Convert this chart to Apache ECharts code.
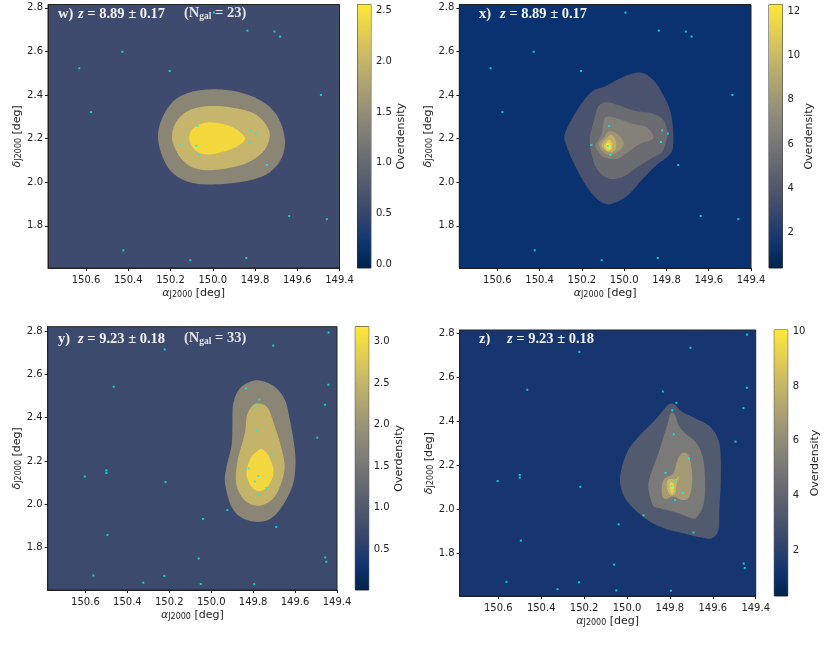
<!DOCTYPE html>
<html>
<head>
<meta charset="utf-8">
<title>Overdensity maps</title>
<style>
  html, body { margin: 0; padding: 0; background: #fff; }
  #main { width: 830px; height: 649px; }
</style>
<script src="https://cdn.jsdelivr.net/npm/echarts@6/dist/echarts.min.js"></script>
</head>
<body>
<div id="main"></div>
<script>
// tick labels
var raTicks = [149.4, 149.6, 149.8, 150.0, 150.2, 150.4, 150.6];
var decTicks = [1.8, 2.0, 2.2, 2.4, 2.6, 2.8];
var cbarTicksW = [0, 0.5, 1, 1.5, 2, 2.5];
var cbarTicksX = [2, 4, 6, 8, 10, 12];
var cbarTicksY = [0.5, 1, 1.5, 2, 2.5, 3];
var cbarTicksZ = [2, 4, 6, 8, 10];

// colorbar ranges
var cbarRangeW = [-0.04, 2.56];
var cbarRangeX = [0.4, 12.3];
var cbarRangeY = [0.01, 3.18];
var cbarRangeZ = [0.35, 10.04];

// galaxies, z = 8.89 slice
var galaxies889 = [
  [150.632, 2.523], [150.428, 2.598], [150.576, 2.322], [150.204, 2.510], [149.994, 2.778],
  [149.836, 2.695], [149.708, 2.691], [149.681, 2.668], [149.488, 2.400], [150.071, 2.258],
  [149.820, 2.238], [149.793, 2.223], [149.826, 2.185], [150.155, 2.171], [150.077, 2.166],
  [150.065, 2.125], [149.744, 2.079], [149.638, 1.845], [149.460, 1.831], [150.423, 1.688],
  [150.106, 1.643], [149.841, 1.653]
];
// galaxies, z = 9.23 slice
var galaxies923 = [
  [149.440, 2.793], [149.704, 2.733], [150.222, 2.715], [149.441, 2.552], [150.465, 2.543],
  [149.833, 2.535], [149.770, 2.484], [149.457, 2.460], [149.789, 2.450], [149.782, 2.341],
  [149.494, 2.308], [149.712, 2.232], [149.821, 2.166], [150.500, 2.157], [150.500, 2.145],
  [150.603, 2.129], [149.775, 2.131], [150.218, 2.103], [149.792, 2.106], [149.739, 2.076],
  [149.776, 2.043], [149.923, 1.974], [150.039, 1.933], [149.690, 1.896], [150.495, 1.859],
  [150.060, 1.750], [149.456, 1.755], [149.451, 1.735], [150.562, 1.672], [150.224, 1.670],
  [150.324, 1.639], [150.050, 1.633], [149.795, 1.632]
];

// contour outlines, outermost first
var contoursW = [
  [[150.259,2.201],[150.243,2.286],[150.188,2.370],[150.109,2.412],[150.006,2.426],[149.888,2.416],[149.777,2.377],[149.698,2.309],
   [149.659,2.201],[149.675,2.110],[149.738,2.041],[149.840,2.006],[149.998,1.990],[150.109,2.000],[150.188,2.041],[150.235,2.110]],
  [[150.193,2.201],[150.172,2.278],[150.109,2.331],[150.006,2.350],[149.888,2.339],[149.793,2.309],[149.738,2.247],[149.733,2.194],
   [149.769,2.133],[149.856,2.082],[149.998,2.056],[150.093,2.067],[150.156,2.117]],
  [[150.111,2.201],[150.093,2.247],[150.038,2.273],[149.967,2.270],[149.896,2.247],[149.847,2.201],[149.888,2.163],[149.967,2.136],
   [150.030,2.128],[150.085,2.148]]
];
var contoursX = [
  [[150.282,2.217],[150.250,2.286],[150.195,2.370],[150.147,2.420],[150.092,2.439],[150.029,2.472],[149.965,2.497],[149.910,2.500],
   [149.855,2.461],[149.807,2.385],[149.779,2.316],[149.768,2.224],[149.772,2.148],[149.799,2.114],[149.847,2.079],[149.910,2.018],
   [149.981,1.942],[150.044,1.906],[150.084,1.900],[150.131,1.926],[150.187,1.995],[150.242,2.095],[150.274,2.171]],
  [[150.163,2.202],[150.142,2.286],[150.123,2.347],[150.084,2.367],[150.029,2.354],[149.950,2.328],[149.870,2.316],[149.815,2.286],
   [149.795,2.224],[149.807,2.171],[149.823,2.136],[149.870,2.110],[149.934,2.072],[150.005,2.026],[150.076,2.018],[150.131,2.064],[150.155,2.133]],
  [[150.136,2.171],[150.108,2.217],[150.092,2.293],[150.052,2.298],[149.965,2.270],[149.894,2.252],[149.862,2.202],[149.926,2.176],
   [149.989,2.133],[150.036,2.107],[150.092,2.114],[150.123,2.140]],
  [[150.120,2.176],[150.092,2.209],[150.076,2.232],[150.044,2.229],[150.013,2.202],[150.002,2.171],[150.029,2.140],[150.068,2.125],[150.100,2.140]],
  [[150.108,2.171],[150.084,2.202],[150.060,2.217],[150.040,2.191],[150.040,2.156],[150.060,2.137],[150.092,2.148]],
  [[150.095,2.171],[150.076,2.194],[150.060,2.186],[150.057,2.156],[150.076,2.143],[150.092,2.156]],
  [[150.087,2.166],[150.076,2.182],[150.065,2.171],[150.066,2.151],[150.079,2.151]]
];
var contoursY = [
  [[149.934,2.097],[149.927,2.173],[149.903,2.273],[149.899,2.373],[149.895,2.465],[149.864,2.535],[149.808,2.568],[149.760,2.570],
   [149.696,2.542],[149.648,2.481],[149.625,2.389],[149.605,2.281],[149.598,2.189],[149.609,2.097],[149.648,2.012],[149.704,1.943],
   [149.768,1.920],[149.848,1.935],[149.903,1.989]],
  [[149.883,2.127],[149.872,2.212],[149.840,2.327],[149.829,2.412],[149.800,2.458],[149.768,2.465],[149.728,2.442],[149.696,2.358],
   [149.669,2.273],[149.650,2.181],[149.664,2.104],[149.704,2.028],[149.768,1.994],[149.832,2.012],[149.872,2.066]],
  [[149.832,2.143],[149.813,2.212],[149.784,2.243],[149.760,2.255],[149.728,2.227],[149.704,2.166],[149.709,2.120],[149.736,2.078],
   [149.771,2.061],[149.808,2.081]]
];
var contoursZ = [
  [[150.032,2.119],[150.025,2.187],[149.994,2.270],[149.939,2.338],[149.877,2.398],[149.830,2.451],[149.802,2.479],[149.776,2.474],
   [149.745,2.444],[149.683,2.414],[149.613,2.376],[149.574,2.315],[149.563,2.240],[149.563,2.119],[149.569,2.013],[149.574,1.908],
   [149.605,1.870],[149.659,1.874],[149.737,1.892],[149.815,1.911],[149.893,1.945],[149.962,1.998],[150.009,2.051]],
  [[149.900,2.096],[149.893,2.149],[149.854,2.255],[149.815,2.376],[149.796,2.436],[149.776,2.429],[149.760,2.383],[149.729,2.346],
   [149.675,2.300],[149.644,2.225],[149.636,2.104],[149.644,2.021],[149.672,1.968],[149.698,1.960],[149.768,1.986],[149.846,2.006],[149.880,2.021]],
  [[149.838,2.074],[149.830,2.134],[149.784,2.164],[149.768,2.217],[149.745,2.255],[149.714,2.247],[149.698,2.179],[149.698,2.104],
   [149.714,2.051],[149.745,2.044],[149.784,2.059],[149.823,2.047]],
  [[149.815,2.104],[149.807,2.137],[149.776,2.137],[149.757,2.152],[149.768,2.119],[149.776,2.074],[149.799,2.066]],
  [[149.802,2.104],[149.795,2.124],[149.781,2.111],[149.784,2.081],[149.795,2.077]],
  [[149.796,2.107],[149.790,2.114],[149.785,2.104],[149.790,2.092]]
];

// layout + styles of the four panels
var panels = [
  { name: 'w)', zLabel: 'z = 8.89 ± 0.17', nGal: 23, galaxies: galaxies889, contours: contoursW,
    ticks: cbarTicksW, range: cbarRangeW, digits: 1,
    left: 48, right: 339.5, top: 4.5, bottom: 268, barLeft: 357.5, barWidth: 13.4,
    raMax: 150.78, decMin: 1.607, decMax: 2.815, nameGapBar: 23,
    textY: 14, zX: 78, nX: 184, labelX: 58,
    bg: '#3e4b6e', fills: ['#8a8574', '#c6b56c', '#f5d93c'] },
  { name: 'x)', zLabel: 'z = 8.89 ± 0.17', galaxies: galaxies889, contours: contoursX,
    ticks: cbarTicksX, range: cbarRangeX, digits: 0,
    left: 459.3, right: 751, top: 4.5, bottom: 268, barLeft: 769, barWidth: 13.4,
    raMax: 150.78, decMin: 1.607, decMax: 2.815, nameGapBar: 21,
    textY: 14, zX: 500, labelX: 479,
    bg: '#0a3270', fills: ['#4a526e', '#6a6c72', '#848178', '#a09672', '#bfae6a', '#dfc856', '#fae339'] },
  { name: 'y)', zLabel: 'z = 9.23 ± 0.18', nGal: 33, galaxies: galaxies923, contours: contoursY,
    ticks: cbarTicksY, range: cbarRangeY, digits: 1,
    left: 47.7, right: 337, top: 326.7, bottom: 590, barLeft: 355.3, barWidth: 13.4,
    raMax: 150.78, decMin: 1.605, decMax: 2.82, nameGapBar: 23,
    textY: 339, zX: 78, nX: 184, labelX: 58,
    bg: '#3c4a6e', fills: ['#8a8574', '#c4b46a', '#f3d840'] },
  { name: 'z)', zLabel: 'z = 9.23 ± 0.18', galaxies: galaxies923, contours: contoursZ,
    ticks: cbarTicksZ, range: cbarRangeZ, digits: 0,
    left: 459.7, right: 755.7, top: 330, bottom: 596, barLeft: 774.3, barWidth: 13.4,
    raMax: 150.78, decMin: 1.608, decMax: 2.814, nameGapBar: 20,
    textY: 339, zX: 507, labelX: 479,
    bg: '#173670', fills: ['#515a6f', '#7a7a78', '#a49a74', '#c8b866', '#e5cf52', '#fee838'] }
];

// cividis
var cividis = [
  { offset: 0, color: '#00224e' }, { offset: 0.1, color: '#123570' }, { offset: 0.2, color: '#35456c' },
  { offset: 0.3, color: '#4f576c' }, { offset: 0.4, color: '#666970' }, { offset: 0.5, color: '#7d7c78' },
  { offset: 0.6, color: '#948f78' }, { offset: 0.7, color: '#aea371' }, { offset: 0.8, color: '#c8b866' },
  { offset: 0.9, color: '#e5cf52' }, { offset: 1, color: '#fee838' }
];

var fontSans = '"DejaVu Sans"';
var fontSerif = '"Liberation Serif"';
var inkColor = '#222';
var axisNameRich = {
  i: { fontFamily: fontSans, fontStyle: 'italic', fontSize: 11, color: inkColor },
  s: { fontFamily: fontSans, fontSize: 8, color: inkColor, verticalAlign: 'bottom', padding: [4, 0, 0, 0] },
  t: { fontFamily: fontSans, fontSize: 11, color: inkColor }
};

var grids = [], xAxes = [], yAxes = [], series = [], titles = [];

function axisStyle() {
  return {
    axisLine: { show: true, onZero: false, lineStyle: { color: inkColor, width: 1 } },
    splitLine: { show: false }
  };
}

function addText(left, centerY, rich, text) {
  titles.push({
    left: left, top: centerY - 9, padding: 0,
    text: text,
    textStyle: { rich: rich, color: '#f0f0f0', lineHeight: 18 }
  });
}

// closed catmull-rom through the outline, in pixel space
function closedCurve(pts) {
  var out = [], n = pts.length, steps = 10;
  for (var i = 0; i < n; i++) {
    var p0 = pts[(i - 1 + n) % n], p1 = pts[i], p2 = pts[(i + 1) % n], p3 = pts[(i + 2) % n];
    for (var s = 0; s < steps; s++) {
      var t = s / steps, t2 = t * t, t3 = t2 * t;
      out.push([
        0.5 * (2 * p1[0] + (p2[0] - p0[0]) * t + (2 * p0[0] - 5 * p1[0] + 4 * p2[0] - p3[0]) * t2 + (3 * p1[0] - p0[0] - 3 * p2[0] + p3[0]) * t3),
        0.5 * (2 * p1[1] + (p2[1] - p0[1]) * t + (2 * p0[1] - 5 * p1[1] + 4 * p2[1] - p3[1]) * t2 + (3 * p1[1] - p0[1] - 3 * p2[1] + p3[1]) * t3)
      ]);
    }
  }
  return out;
}

var titleRich = {
  b: { fontFamily: fontSerif, fontWeight: 'bold', fontSize: 14.5, color: '#f0f0f0' },
  n: { fontFamily: fontSerif, fontWeight: 'bold', fontSize: 14.5, color: '#e4e4e4' },
  i: { fontFamily: fontSerif, fontWeight: 'bold', fontStyle: 'italic', fontSize: 14.5, color: '#f0f0f0' },
  s: { fontFamily: fontSerif, fontWeight: 'bold', fontSize: 9.5, color: '#e4e4e4', verticalAlign: 'bottom', padding: [5, 0, 0, 0] }
};

panels.forEach(function (p, k) {
  var barIdx = k + 4;

  // map grid
  grids[k] = {
    left: p.left, top: p.top, width: p.right - p.left, height: p.bottom - p.top,
    show: true, backgroundColor: p.bg, borderColor: inkColor, borderWidth: 1
  };
  xAxes[k] = Object.assign(axisStyle(), {
    type: 'value', gridIndex: k, inverse: true, min: 149.4, max: p.raMax,
    name: '{i|α}{s|J2000}{t| [deg]}', nameLocation: 'middle', nameGap: 19,
    nameTextStyle: { rich: axisNameRich },
    axisTick: { show: true, length: 3, customValues: raTicks, lineStyle: { color: inkColor } },
    axisLabel: { customValues: raTicks, fontFamily: fontSans, fontSize: 10, color: inkColor, margin: 7,
      formatter: function (v) { return v.toFixed(1); } }
  });
  yAxes[k] = Object.assign(axisStyle(), {
    type: 'value', gridIndex: k, min: p.decMin, max: p.decMax,
    name: '{i|δ}{s|J2000}{t| [deg]}', nameLocation: 'middle', nameGap: 25,
    nameTextStyle: { rich: axisNameRich },
    axisTick: { show: true, length: 3, customValues: decTicks, lineStyle: { color: inkColor } },
    axisLabel: { customValues: decTicks, fontFamily: fontSans, fontSize: 10, color: inkColor, margin: 5,
      formatter: function (v) { return v.toFixed(1); } }
  });

  // filled contours
  series.push({
    type: 'custom', xAxisIndex: k, yAxisIndex: k, silent: true, clip: true, z: 2,
    data: p.contours.map(function (c, i) { return i; }),
    renderItem: function (params, api) {
      var pts = p.contours[params.dataIndex].map(function (pt) { return api.coord(pt); });
      return { type: 'polygon', shape: { points: closedCurve(pts) }, style: { fill: p.fills[params.dataIndex] } };
    }
  });

  // galaxy positions
  series.push({
    type: 'scatter', xAxisIndex: k, yAxisIndex: k, silent: true, z: 3,
    symbol: 'rect', symbolSize: 2, itemStyle: { color: '#0ff0f0' },
    data: p.galaxies
  });

  // colorbar
  grids[barIdx] = {
    left: p.barLeft, top: p.top, width: p.barWidth, height: p.bottom - p.top,
    show: true, borderColor: '#333', borderWidth: 1
  };
  xAxes[barIdx] = { type: 'value', gridIndex: barIdx, min: 0, max: 1, show: false };
  yAxes[barIdx] = {
    type: 'value', gridIndex: barIdx, position: 'right', min: p.range[0], max: p.range[1],
    name: 'Overdensity', nameLocation: 'middle', nameGap: p.nameGapBar, nameRotate: 90,
    nameTextStyle: { fontFamily: fontSans, fontSize: 11, color: inkColor },
    axisLine: { show: false }, splitLine: { show: false },
    axisTick: { show: true, length: 3, customValues: p.ticks, lineStyle: { color: inkColor } },
    axisLabel: { customValues: p.ticks, fontFamily: fontSans, fontSize: 10, color: inkColor, margin: 5,
      formatter: function (v) { return v.toFixed(p.digits); } }
  };
  series.push({
    type: 'custom', xAxisIndex: barIdx, yAxisIndex: barIdx, silent: true,
    data: [p.range],
    renderItem: function (params, api) {
      var a = api.coord([0, p.range[1]]);
      var b = api.coord([1, p.range[0]]);
      return {
        type: 'rect', shape: { x: a[0], y: a[1], width: b[0] - a[0], height: b[1] - a[1] },
        style: { fill: { type: 'linear', x: 0, y: 1, x2: 0, y2: 0, colorStops: cividis } }
      };
    }
  });

  // panel annotations
  addText(p.labelX, p.textY, titleRich, '{b|' + p.name + '}');
  addText(p.zX, p.textY, titleRich, '{i|z}{b|' + p.zLabel.slice(1) + '}');
  if (p.nGal) addText(p.nX, p.textY - 1, titleRich, '{n|(N}{s|gal}{n| = ' + p.nGal + ')}');
});

var chart = echarts.init(document.getElementById('main'), null, { renderer: 'canvas' });
chart.setOption({
  animation: false,
  backgroundColor: '#fff',
  title: titles,
  grid: grids,
  xAxis: xAxes,
  yAxis: yAxes,
  series: series
});
</script>
</body>
</html>
